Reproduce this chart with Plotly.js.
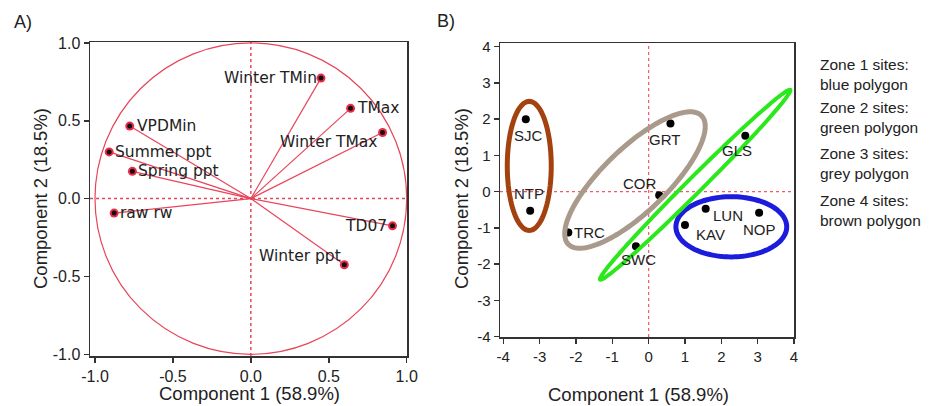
<!DOCTYPE html>
<html>
<head>
<meta charset="utf-8">
<script src="https://cdn.plot.ly/plotly-3.0.1.min.js"></script>
<style>html,body{margin:0;padding:0;background:#fff;}#chart{width:934px;height:406px;}</style>
</head>
<body>
<div id="chart"></div>
<script>
// ---------- Panel A: variable loadings ----------
const loadNames = ['Winter TMin', 'TMax', 'Winter TMax', 'VPDMin', 'Summer ppt', 'Spring ppt', 'raw rw', 'TD07', 'Winter ppt'];
const loadX = [0.45, 0.64, 0.845, -0.777, -0.909, -0.76, -0.877, 0.909, 0.60];
const loadY = [0.774, 0.58, 0.425, 0.466, 0.30, 0.175, -0.093, -0.175, -0.425];

// ---------- Panel B: site scores ----------
const siteNames = ['SJC', 'NTP', 'GRT', 'GLS', 'COR', 'TRC', 'SWC', 'LUN', 'KAV', 'NOP'];
const siteX = [-3.38, -3.26, 0.60, 2.66, 0.29, -2.21, -0.35, 1.57, 1.00, 3.04];
const siteY = [2.00, -0.53, 1.88, 1.54, -0.10, -1.13, -1.51, -0.47, -0.92, -0.58];

// tick labels
const tickValsA = [-1, -0.5, 0, 0.5, 1];
const tickTextA = ['-1.0', '-0.5', '0.0', '0.5', '1.0'];
const tickValsB = [-4, -3, -2, -1, 0, 1, 2, 3, 4];
const tickTextB = ['-4', '-3', '-2', '-1', '0', '1', '2', '3', '4'];

// zone legend text
const zoneTexts = ['Zone 1 sites:<br>blue polygon', 'Zone 2 sites:<br>green polygon', 'Zone 3 sites:<br>grey polygon', 'Zone 4 sites:<br>brown polygon'];

// ---------- styles / placement (not data) ----------
const W = 934, H = 406;
const labelPlaceA = [
  {xa:'right', dx:-2, dy:0}, {xa:'left', dx:4, dy:0}, {xa:'right', dx:-3, dy:-10},
  {xa:'left', dx:5, dy:0}, {xa:'left', dx:4, dy:0}, {xa:'left', dx:4, dy:0},
  {xa:'left', dx:4, dy:0}, {xa:'right', dx:-4, dy:0}, {xa:'right', dx:-1, dy:9}
];
const labelPlaceB = [
  {xa:'center', dx:3, dy:-16}, {xa:'center', dx:-1, dy:17}, {xa:'center', dx:-6, dy:-16},
  {xa:'center', dx:-8, dy:-15}, {xa:'center', dx:-19, dy:12}, {xa:'left', dx:4, dy:0},
  {xa:'center', dx:3, dy:-13}, {xa:'left', dx:5, dy:-7}, {xa:'left', dx:9, dy:-10},
  {xa:'center', dx:0, dy:-17}
];
// zone outlines: [cx, cy, semiA, semiB, angleDeg, color, width]
const zoneShapes = [
  [2.275, -0.97, 1.525, 0.83, 0, '#1c1cdc', 5],
  [1.28, 0.19, 3.7, 0.21, 45, '#2ae81c', 4],
  [-0.376, 0.32, 2.55, 0.88, 44, '#a99a8b', 5],
  [-3.285, 0.71, 0.605, 1.78, 0, '#a3420e', 5]
];

function ellipsePath(cx, cy, a, b, deg) {
  const t = deg * Math.PI / 180, c = Math.cos(t), s = Math.sin(t);
  let p = '';
  for (let i = 0; i <= 120; i++) {
    const u = 2 * Math.PI * i / 120;
    const ex = a * Math.cos(u), ey = b * Math.sin(u);
    const x = cx + ex * c - ey * s, y = cy + ex * s + ey * c;
    p += (i === 0 ? 'M ' : ' L ') + x.toFixed(4) + ',' + y.toFixed(4);
  }
  return p + ' Z';
}

const red = '#e8455a';
const axisFont = {family: 'Liberation Sans, Arial, sans-serif', size: 16, color: '#222'};
const txt = '#222';

// vectors from origin
const vecX = [], vecY = [];
for (let i = 0; i < loadX.length; i++) { vecX.push(0, loadX[i], null); vecY.push(0, loadY[i], null); }

const traces = [
  {x: vecX, y: vecY, mode: 'lines', line: {color: red, width: 1.2}, xaxis: 'x', yaxis: 'y', hoverinfo: 'skip', showlegend: false},
  {x: loadX, y: loadY, mode: 'markers', marker: {color: '#ec2c48', size: 9}, xaxis: 'x', yaxis: 'y', hoverinfo: 'skip', showlegend: false},
  {x: loadX, y: loadY, mode: 'markers', marker: {color: '#111', size: 5}, xaxis: 'x', yaxis: 'y', text: loadNames, showlegend: false},
  {x: siteX, y: siteY, mode: 'markers', marker: {color: '#000', size: 8}, xaxis: 'x2', yaxis: 'y2', text: siteNames, showlegend: false}
];

const shapes = [
  {type: 'circle', xref: 'x', yref: 'y', x0: -1, x1: 1, y0: -1, y1: 1, line: {color: red, width: 1.2}, layer: 'below'},
  {type: 'line', xref: 'x domain', yref: 'y', x0: 0, x1: 1, y0: 0, y1: 0, line: {color: red, width: 1.5, dash: 'dot'}, layer: 'below'},
  {type: 'line', xref: 'x', yref: 'y domain', x0: 0, x1: 0, y0: 0, y1: 1, line: {color: red, width: 1.5, dash: 'dot'}, layer: 'below'},
  {type: 'line', xref: 'x2 domain', yref: 'y2', x0: 0, x1: 1, y0: 0, y1: 0, line: {color: '#f05a6a', width: 1.2, dash: 'dot'}, layer: 'below'},
  {type: 'line', xref: 'x2', yref: 'y2 domain', x0: 0, x1: 0, y0: 0, y1: 1, line: {color: '#f05a6a', width: 1.2, dash: 'dot'}, layer: 'below'}
];
zoneShapes.forEach(z => {
  shapes.push({type: 'path', xref: 'x2', yref: 'y2', path: ellipsePath(z[0], z[1], z[2], z[3], z[4]), line: {color: z[5], width: z[6]}, fillcolor: 'rgba(0,0,0,0)'});
});

const annotations = [];
loadNames.forEach((n, i) => {
  const p = labelPlaceA[i];
  annotations.push({xref: 'x', yref: 'y', x: loadX[i], y: loadY[i], text: n, showarrow: false, xanchor: p.xa, yanchor: 'middle', xshift: p.dx, yshift: p.dy, font: {family: 'DejaVu Sans, sans-serif', size: 15.5, color: txt}});
});
siteNames.forEach((n, i) => {
  const p = labelPlaceB[i];
  annotations.push({xref: 'x2', yref: 'y2', x: siteX[i], y: siteY[i], text: n, showarrow: false, xanchor: p.xa, yanchor: 'middle', xshift: p.dx, yshift: p.dy, font: {family: 'Liberation Sans, Arial, sans-serif', size: 15, color: txt}});
});
const zoneY = [74, 118, 164, 210];
zoneTexts.forEach((t, i) => {
  annotations.push({xref: 'paper', yref: 'paper', x: 818 / W, y: 1 - zoneY[i] / H, text: t, showarrow: false, xanchor: 'left', yanchor: 'middle', align: 'left', font: {family: 'Liberation Sans, Arial, sans-serif', size: 15.5, color: txt}});
});
const titleFont = {family: 'Liberation Sans, Arial, sans-serif', size: 18.5, color: txt};
annotations.push(
  {xref: 'paper', yref: 'paper', x: 249 / W, y: 1 - 393 / H, text: 'Component 1 (58.9%)', showarrow: false, xanchor: 'center', yanchor: 'middle', font: titleFont},
  {xref: 'paper', yref: 'paper', x: 40 / W, y: 1 - 199 / H, text: 'Component 2 (18.5%)', showarrow: false, textangle: -90, xanchor: 'center', yanchor: 'middle', font: titleFont},
  {xref: 'paper', yref: 'paper', x: 638 / W, y: 1 - 394 / H, text: 'Component 1 (58.9%)', showarrow: false, xanchor: 'center', yanchor: 'middle', font: titleFont},
  {xref: 'paper', yref: 'paper', x: 461 / W, y: 1 - 199 / H, text: 'Component 2 (18.5%)', showarrow: false, textangle: -90, xanchor: 'center', yanchor: 'middle', font: titleFont},
  {xref: 'paper', yref: 'paper', x: 23 / W, y: 1 - 22 / H, text: 'A)', showarrow: false, xanchor: 'center', yanchor: 'middle', font: {family: 'Liberation Sans, Arial, sans-serif', size: 18, color: txt}},
  {xref: 'paper', yref: 'paper', x: 446 / W, y: 1 - 21 / H, text: 'B)', showarrow: false, xanchor: 'center', yanchor: 'middle', font: {family: 'Liberation Sans, Arial, sans-serif', size: 18, color: txt}}
);

const axisCommon = {showgrid: false, zeroline: false, showline: true, linecolor: '#333', linewidth: 1.5, mirror: true, ticks: 'outside', ticklen: 5, tickwidth: 1.5, tickcolor: '#333'};

const layout = {
  width: W, height: H, margin: {l: 0, r: 0, t: 0, b: 0},
  paper_bgcolor: '#fff', plot_bgcolor: '#fff', showlegend: false,
  xaxis: Object.assign({}, axisCommon, {domain: [90 / W, 407 / W], range: [-1.032, 1.002], tickvals: tickValsA, ticktext: tickTextA, tickfont: axisFont, anchor: 'y'}),
  yaxis: Object.assign({}, axisCommon, {domain: [50 / H, 364 / H], range: [-1.011, 1.006], tickvals: tickValsA, ticktext: tickTextA, tickfont: axisFont, anchor: 'x'}),
  xaxis2: Object.assign({}, axisCommon, {domain: [500 / W, 794 / W], range: [-4.09, 4.0], tickvals: tickValsB, ticktext: tickTextB, tickfont: {family: axisFont.family, size: 15, color: '#222'}, anchor: 'y2'}),
  yaxis2: Object.assign({}, axisCommon, {domain: [69 / H, 363 / H], range: [-4.01, 4.10], tickvals: tickValsB, ticktext: tickTextB, tickfont: {family: axisFont.family, size: 15, color: '#222'}, anchor: 'x2'}),
  shapes: shapes,
  annotations: annotations
};

Plotly.newPlot('chart', traces, layout, {displayModeBar: false, staticPlot: true});
</script>
</body>
</html>
